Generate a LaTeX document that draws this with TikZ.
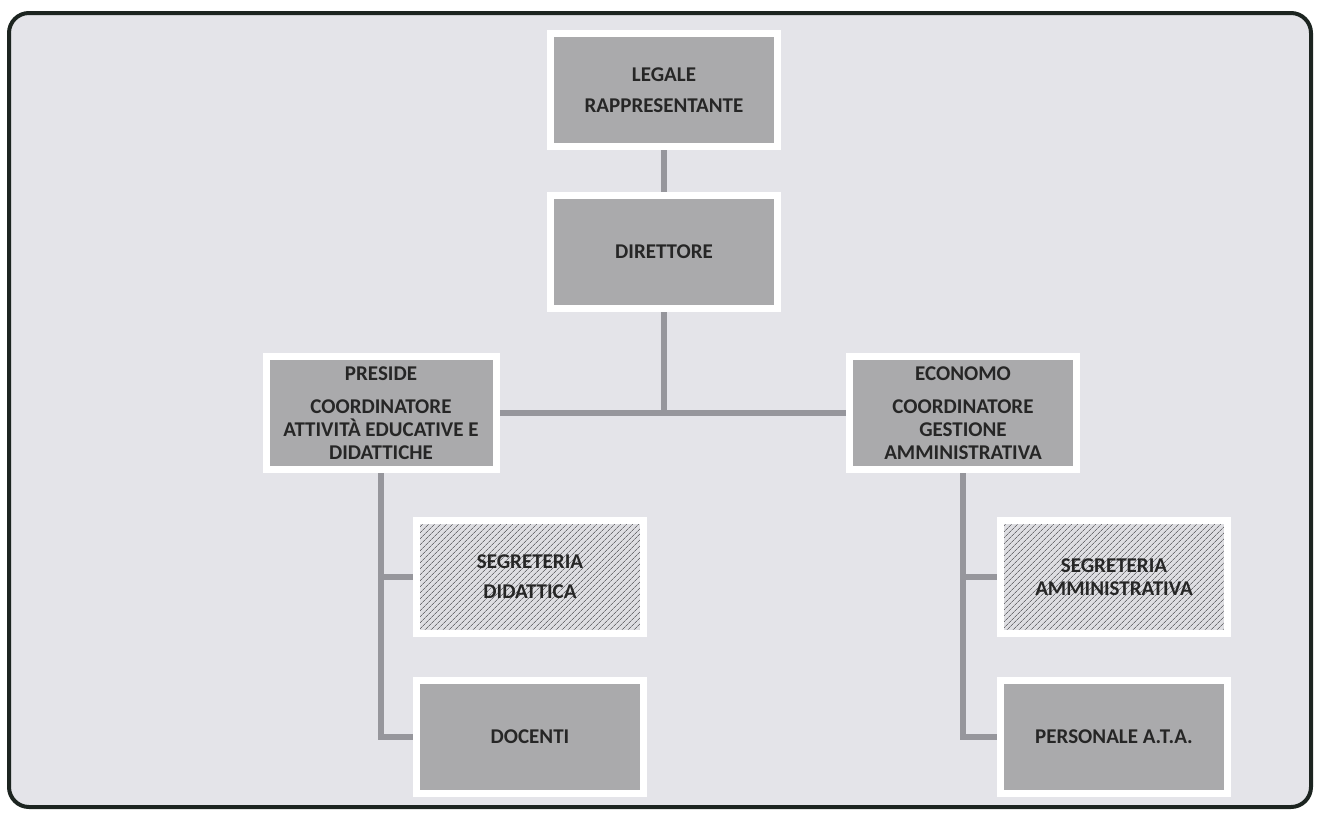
\documentclass[tikz,border=0pt]{standalone}
\usepackage{fontspec}
\setmainfont{Carlito}
\usepackage{tikz}
\usetikzlibrary{patterns.meta,backgrounds}
\definecolor{sfondo}{RGB}{228,228,233}
\definecolor{cornice}{RGB}{28,36,32}
\definecolor{grigio}{RGB}{170,170,172}
\definecolor{tratteggio}{RGB}{222,222,226}
\definecolor{linee}{RGB}{110,110,114}
\definecolor{raccordo}{RGB}{150,150,156}
\tikzset{
  ufficio/.style = {align=center, inner sep=0pt, text centered,
    draw=white, line width=7pt, fill=grigio, text=black!85,
    minimum width=227pt, minimum height=113pt,
    font=\fontsize{21}{23}\selectfont\bfseries},% casella piena
  ufficio_t/.style = {ufficio, fill=none, preaction={fill=tratteggio},
    pattern={Lines[angle=45,distance=4pt,line width=0.7pt]},
    pattern color=linee},% casella tratteggiata
  filo/.style = {draw=raccordo, line width=6pt}% raccordo
}

\begin{document}
\begin{tikzpicture}[x=1pt,y=-1pt]
    \useasboundingbox (0,0) rectangle (1318,812);
    \node [ufficio] (legale) at (664,90) {LEGALE\\[8pt]RAPPRESENTANTE};
    \node [ufficio] (direttore) at (664,252) {DIRETTORE};
    \node [ufficio, minimum width=230pt] (preside) at (381,413)
        {PRESIDE\\[10pt]COORDINATORE\\ATTIVIT\`A EDUCATIVE E\\DIDATTICHE};
    \node [ufficio] (economo) at (963,413)
        {ECONOMO\\[10pt]COORDINATORE\\GESTIONE\\AMMINISTRATIVA};
    \node [ufficio_t] (segdid) at (530,577) {SEGRETERIA\\[7pt]DIDATTICA};
    \node [ufficio] (docenti) at (530,737) {DOCENTI};
    \node [ufficio_t] (segamm) at (1114,577) {SEGRETERIA\\AMMINISTRATIVA};
    \node [ufficio] (ata) at (1114,737) {PERSONALE A.T.A.};
    \begin{scope}[on background layer]
        \draw [draw=cornice, fill=sfondo, line width=4pt, rounded corners=20pt]
            (9,13) rectangle (1311,807);
        \draw [filo] (legale) -- (direttore);
        \draw [filo] (direttore) -- (direttore |- preside);
        \draw [filo] (preside) -- (economo);
        \draw [filo] (preside) |- (segdid);
        \draw [filo] (preside) |- (docenti);
        \draw [filo] (economo) |- (segamm);
        \draw [filo] (economo) |- (ata);
    \end{scope}
\end{tikzpicture}
\end{document}
